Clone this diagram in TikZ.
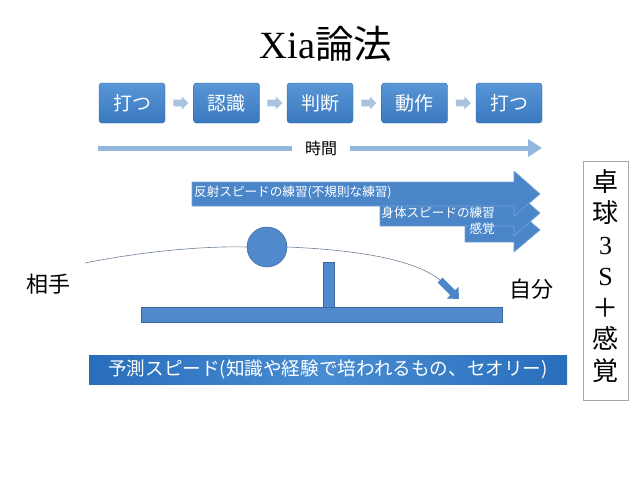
\documentclass[tikz,border=0pt]{standalone}
\usepackage{fontspec}
\setmainfont{Liberation Serif}
\newfontfamily\jp{Noto Sans CJK JP}
\usetikzlibrary{shapes.arrows,arrows.meta}
\definecolor{boxtop}{RGB}{88,150,214}
\definecolor{boxbot}{RGB}{58,120,192}
\definecolor{smallarr}{RGB}{170,194,222}
\definecolor{timeblue}{RGB}{146,182,220}
\definecolor{arrblue}{RGB}{74,134,200}
\definecolor{ballblue}{RGB}{80,138,204}
\definecolor{trajcol}{RGB}{110,130,150}
\definecolor{bardark}{RGB}{40,110,186}
\definecolor{barlight}{RGB}{72,140,210}
\tikzset{
  stepbox/.style={rounded corners=3pt, top color=boxtop, bottom color=boxbot, draw=boxbot!85!black, line width=0.4pt,
    minimum width=66pt, minimum height=40pt, inner sep=0pt, text=white, font=\jp\fontsize{19}{22}\selectfont},
  smallarrow/.style={single arrow, fill=smallarr, draw=none, minimum height=15pt, minimum width=13pt,
    single arrow head extend=3pt, inner xsep=0pt, inner ysep=3pt},
  timeline/.style={draw=timeblue, line width=5pt},
  bigarrow/.style={fill=arrblue, draw=arrblue!75!white, line width=0.6pt},
  arrtext/.style={text=white, font=\jp\fontsize{12.6}{14}\selectfont, inner sep=1pt},
  shapefill/.style={fill=ballblue, draw=ballblue!75!black, line width=0.5pt},
  biglabel/.style={font=\jp\fontsize{22}{26}\selectfont, text=black},
}
\begin{document}
\begin{tikzpicture}[x=1pt,y=-1pt]
\useasboundingbox (0,0) rectangle (640,480);
\fill[white] (0,0) rectangle (640,480);

% title
\node[font=\fontsize{38.5}{42}\selectfont] (title) at (326,44) {Xia{\jp 論法}};

% process boxes
\node[stepbox] (b1) at (132,103) {打つ};
\node[stepbox] (b2) at (226.5,103) {認識};
\node[stepbox] (b3) at (320,103) {判断};
\node[stepbox] (b4) at (414.5,103) {動作};
\node[stepbox] (b5) at (509,103) {打つ};
\path (b1) -- (b2) node[midway, smallarrow] (s1) {};
\path (b2) -- (b3) node[midway, smallarrow] (s2) {};
\path (b3) -- (b4) node[midway, smallarrow] (s3) {};
\path (b4) -- (b5) node[midway, smallarrow] (s4) {};

% time axis
\coordinate (t0) at (98,148);
\coordinate (t1) at (542,148);
\node[font=\jp\fontsize{16}{18}\selectfont, inner xsep=13pt, inner ysep=0pt] (time) at (321,148) {時間};
\draw[timeline] (t0) -- (time.west);
\draw[timeline, -{Triangle[length=14pt, width=17pt]}] (time.east) -- (t1);

% big arrows
\path[bigarrow] (465,220) -- (514,220) -- (514,207) -- (540,230) -- (514,252) -- (514,242) -- (465,242) -- cycle;
\path[bigarrow] (380,203) -- (514,203) -- (514,190) -- (540,213) -- (514,236) -- (514,226) -- (380,226) -- cycle;
\path[bigarrow] (192,182) -- (514,182) -- (514,171) -- (540,194) -- (514,216) -- (514,206) -- (192,206) -- cycle;
\node[arrtext, anchor=west] (r1) at (193,192) {反射スピードの練習(不規則な練習)};
\node[arrtext, anchor=east] (r2) at (496,213) {身体スピードの練習};
\node[arrtext, anchor=east] (r3) at (496,229) {感覚};

% table, net, ball
\node[shapefill, minimum width=361pt, minimum height=15pt, inner sep=0pt] (table) at (321.5,314.5) {};
\node[shapefill, minimum width=11pt, minimum height=45pt, inner sep=0pt, anchor=south] (net) at (328.5,307) {};
\node[shapefill, circle, minimum size=40pt, inner sep=0pt] (ball) at (267,247) {};

% trajectory
\coordinate (c0) at (85,263);
\coordinate (a0) at (440,280);
\coordinate (a1) at (459,299);
\draw[trajcol, line width=0.6pt] (c0) .. controls (150,250) and (210,246) .. (ball.west);
\draw[trajcol, line width=0.6pt] (ball.east) .. controls (360,250) and (415,260) .. (a0);
\draw[arrblue, line width=7pt, -{Triangle[length=9pt, width=16pt]}] (a0) -- (a1);

% players
\node[biglabel] (opp) at (48,284) {相手};
\node[biglabel] (me) at (531,289) {自分};

% prediction bar
\node[shading=axis, left color=bardark, right color=bardark, middle color=barlight,
      minimum width=478pt, minimum height=29pt, inner sep=0pt, text=white,
      font=\jp\fontsize{18.6}{20}\selectfont] (pred) at (328,369.5) {予測スピード(知識や経験で培われるもの、セオリー)};

% side box
\node[draw=black!35, line width=0.6pt, minimum width=45pt, minimum height=239pt, inner sep=0pt] (side) at (605.5,280.5) {};
\node[align=center, font=\fontsize{26}{31.5}\selectfont, inner sep=0pt] (sidetext) at (605.5,276)
  {{\jp 卓}\\{\jp 球}\\3\\S\\{\jp ＋}\\{\jp 感}\\{\jp 覚}};
\end{tikzpicture}
\end{document}
